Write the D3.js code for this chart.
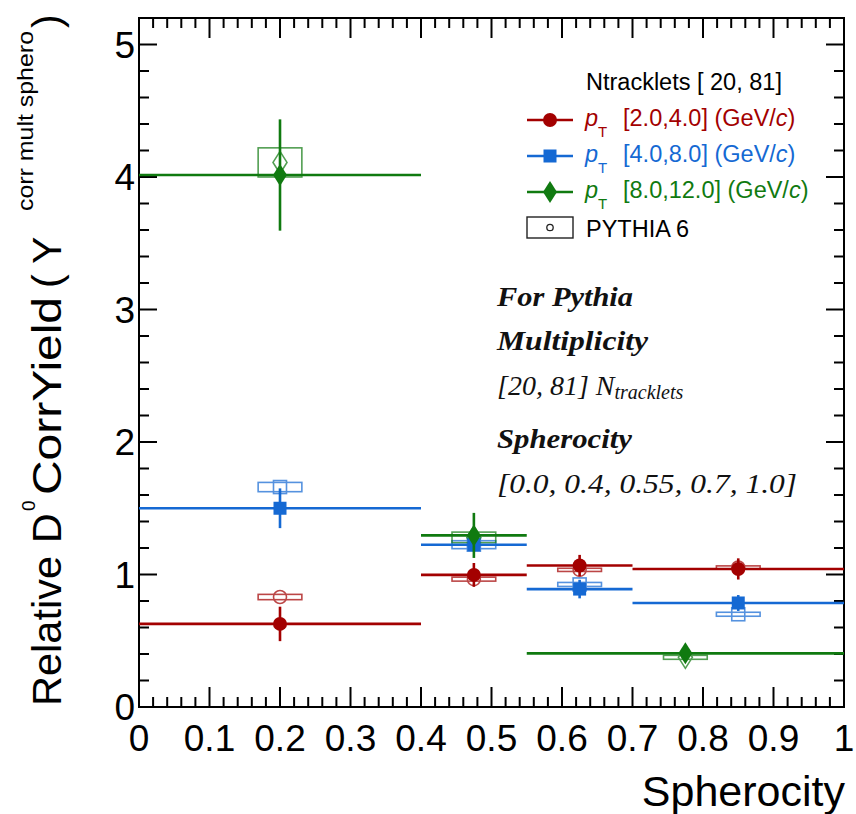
<!DOCTYPE html>
<html>
<head>
<meta charset="utf-8">
<script src="https://cdn.jsdelivr.net/npm/d3@7"></script>
<style>
  html, body { margin: 0; padding: 0; background: #fff; }
  svg { display: block; }
  text.sans { font-family: "Liberation Sans", Arial, Helvetica, sans-serif; }
  text.serif { font-family: "Liberation Serif", "DejaVu Serif", serif; font-style: italic; }
</style>
</head>
<body>
<svg id="chart" width="856" height="814"></svg>
<script>
// ---- axis ticks ----
const xTickLabels = ["0", "0.1", "0.2", "0.3", "0.4", "0.5", "0.6", "0.7", "0.8", "0.9", "1"];
const xTickValues = [0, 0.1, 0.2, 0.3, 0.4, 0.5, 0.6, 0.7, 0.8, 0.9, 1.0];
const yTickLabels = ["0", "1", "2", "3", "4", "5"];
const yTickValues = [0, 1, 2, 3, 4, 5];

// ---- spherocity bins ----
const binsFine = [[0, 0.4], [0.4, 0.55], [0.55, 0.7], [0.7, 1.0]];
const binsGreen = [[0, 0.4], [0.4, 0.55], [0.55, 1.0]];
const centersFine = [0.2, 0.475, 0.625, 0.85];
const centersGreen = [0.2, 0.475, 0.775];

// ---- measured relative yields (pT classes) ----
const redValues = [0.627, 0.997, 1.068, 1.042];
const redErrors = [0.13, 0.09, 0.08, 0.08];
const blueValues = [1.50, 1.225, 0.89, 0.785];
const blueErrors = [0.15, 0.05, 0.07, 0.06];
const greenValues = [4.015, 1.295, 0.405];
const greenErrors = [0.42, 0.17, 0.06];

// ---- PYTHIA 6 predictions ----
const redPythia = [0.83, 0.965, 1.035, 1.053];
const redPythiaErr = [0.02, 0.015, 0.012, 0.012];
const bluePythia = [1.66, 1.225, 0.925, 0.70];
const bluePythiaErr = [0.035, 0.03, 0.015, 0.015];
const greenPythia = [4.11, 1.28, 0.375];
const greenPythiaErr = [0.11, 0.04, 0.015];

const legendLabels = ["[2.0,4.0]", "[4.0,8.0]", "[8.0,12.0]"];

const RED = "#a30000", BLUE = "#1569d3", GREEN = "#107a10";

const svg = d3.select("#chart");
const L = 139, R = 844, T = 18, B = 707;
const x = d3.scaleLinear().domain([0, 1]).range([L, R]);
const y = d3.scaleLinear().domain([0, 5.2]).range([B, T]);

// ---- frame and ticks (ticks on all four sides, pointing inward) ----
const axes = svg.append("g").attr("stroke", "#000").attr("stroke-width", 2);
axes.append("rect").attr("x", L).attr("y", T).attr("width", R - L).attr("height", B - T).attr("fill", "none");

const xMinor = d3.range(0, 51).map(i => i / 50);
xMinor.forEach((v, i) => {
  const len = (i % 5 === 0) ? 20 : 10;
  axes.append("line").attr("x1", x(v)).attr("x2", x(v)).attr("y1", B).attr("y2", B - len);
  axes.append("line").attr("x1", x(v)).attr("x2", x(v)).attr("y1", T).attr("y2", T + len);
});
const yMinor = d3.range(0, 27).map(i => i / 5);
yMinor.forEach((v, i) => {
  const len = (i % 5 === 0) ? 18 : 10;
  axes.append("line").attr("y1", y(v)).attr("y2", y(v)).attr("x1", L).attr("x2", L + len);
  axes.append("line").attr("y1", y(v)).attr("y2", y(v)).attr("x1", R).attr("x2", R - len);
});

// tick labels
svg.append("g").selectAll("text").data(xTickValues).join("text").attr("class", "sans")
  .attr("x", d => x(d)).attr("y", 751)
  .attr("text-anchor", "middle").attr("font-size", 37)
  .text((d, i) => xTickLabels[i]);
svg.append("g").selectAll("text").data(yTickValues).join("text").attr("class", "sans")
  .attr("x", 135).attr("y", d => y(d) + 13)
  .attr("text-anchor", "end").attr("font-size", 37)
  .text((d, i) => yTickLabels[i]);

// axis titles
svg.append("text").attr("class", "sans").attr("x", R + 1).attr("y", 806).attr("text-anchor", "end")
  .attr("font-size", 43).text("Spherocity");

// vertical title: rotated frame, u = -screenY, v = screenX
const yt = svg.append("text").attr("class", "sans").attr("transform", "rotate(-90)").attr("font-size", 41);
yt.append("tspan").attr("x", -706).attr("y", 61).attr("textLength", 150).attr("lengthAdjust", "spacingAndGlyphs").text("Relative");
yt.append("tspan").attr("x", -543).attr("y", 61).text("D");
yt.append("tspan").attr("x", -511).attr("y", 35).attr("font-size", 19).text("0");
yt.append("tspan").attr("x", -495).attr("y", 61).attr("textLength", 198).attr("lengthAdjust", "spacingAndGlyphs").text("CorrYield");
yt.append("tspan").attr("x", -288).attr("y", 61).text("(");
yt.append("tspan").attr("x", -264).attr("y", 61).text("Y");
yt.append("tspan").attr("x", -211).attr("y", 33).attr("font-size", 22).attr("textLength", 180).attr("lengthAdjust", "spacingAndGlyphs").text("corr mult sphero");
yt.append("tspan").attr("x", -28).attr("y", 61).text(")");

// ---- marker drawing ----
function marker(g, shape, cx, cy, color, filled) {
  const fill = filled ? color : "none";
  const sw = filled ? 0 : 1.6;
  if (shape === "circle") {
    g.append("circle").attr("cx", cx).attr("cy", cy).attr("r", filled ? 7 : 6.5)
      .attr("fill", fill).attr("stroke", color).attr("stroke-width", sw);
  } else if (shape === "square") {
    const s = 13;
    g.append("rect").attr("x", cx - s / 2).attr("y", cy - s / 2).attr("width", s).attr("height", s)
      .attr("fill", fill).attr("stroke", color).attr("stroke-width", sw);
  } else {
    const w = 7, h = 11;
    g.append("path").attr("d", `M${cx},${cy - h}L${cx + w},${cy}L${cx},${cy + h}L${cx - w},${cy}Z`)
      .attr("fill", fill).attr("stroke", color).attr("stroke-width", sw);
  }
}

const series = [
  { color: RED, shape: "circle", bins: binsFine, centers: centersFine, vals: redValues, errs: redErrors, py: redPythia, pyErr: redPythiaErr },
  { color: BLUE, shape: "square", bins: binsFine, centers: centersFine, vals: blueValues, errs: blueErrors, py: bluePythia, pyErr: bluePythiaErr },
  { color: GREEN, shape: "diamond", bins: binsGreen, centers: centersGreen, vals: greenValues, errs: greenErrors, py: greenPythia, pyErr: greenPythiaErr }
];

const plot = svg.append("g");
// PYTHIA boxes and open markers underneath
const boxHalf = 0.031;
series.forEach(s => {
  const g = plot.append("g").attr("opacity", 0.72);
  s.py.forEach((v, i) => {
    const cx = x(s.centers[i]);
    g.append("rect")
      .attr("x", x(s.centers[i] - boxHalf)).attr("width", x(s.centers[i] + boxHalf) - x(s.centers[i] - boxHalf))
      .attr("y", y(v + s.pyErr[i])).attr("height", Math.max(3, y(v - s.pyErr[i]) - y(v + s.pyErr[i])))
      .attr("fill", "none").attr("stroke", s.color).attr("stroke-width", 1.6);
    marker(g, s.shape, cx, y(v), s.color, false);
  });
});
// data: bin-width horizontal bars, statistical vertical bars, filled markers
series.forEach(s => {
  const g = plot.append("g");
  s.vals.forEach((v, i) => {
    const cx = x(s.centers[i]);
    g.append("line").attr("x1", x(s.bins[i][0])).attr("x2", x(s.bins[i][1]))
      .attr("y1", y(v)).attr("y2", y(v)).attr("stroke", s.color).attr("stroke-width", 2.6);
    g.append("line").attr("x1", cx).attr("x2", cx)
      .attr("y1", y(v + s.errs[i])).attr("y2", y(v - s.errs[i])).attr("stroke", s.color).attr("stroke-width", 2.6);
    marker(g, s.shape, cx, y(v), s.color, true);
  });
});

// ---- legend ----
const lg = svg.append("g");
lg.append("text").attr("class", "sans").attr("x", 586).attr("y", 90).attr("font-size", 23.5).text("Ntracklets [ 20, 81]");
const legY = [120, 156, 192];
series.forEach((s, i) => {
  lg.append("line").attr("x1", 527).attr("x2", 573).attr("y1", legY[i]).attr("y2", legY[i])
    .attr("stroke", s.color).attr("stroke-width", 2.6);
  marker(lg, s.shape, 550, legY[i], s.color, true);
  const t = lg.append("text").attr("class", "sans").attr("x", 585).attr("y", legY[i] + 6).attr("font-size", 23.5).attr("fill", s.color);
  t.append("tspan").attr("font-style", "italic").text("p");
  t.append("tspan").attr("font-size", 15).attr("dy", 11).text("T");
  t.append("tspan").attr("x", 623).attr("dy", -11).text(legendLabels[i] + " (GeV/");
  t.append("tspan").attr("font-style", "italic").text("c");
  t.append("tspan").text(")");
});
lg.append("rect").attr("x", 527).attr("y", 217).attr("width", 46).attr("height", 21)
  .attr("fill", "none").attr("stroke", "#222").attr("stroke-width", 1.4);
lg.append("circle").attr("cx", 550).attr("cy", 227.5).attr("r", 3.2).attr("fill", "none").attr("stroke", "#222").attr("stroke-width", 1.3);
lg.append("text").attr("class", "sans").attr("x", 586).attr("y", 237).attr("font-size", 23.5).text("PYTHIA 6");

// ---- annotation ----
const ann = svg.append("g").attr("fill", "#111");
function annLine(yPos, txt, bold, len) {
  return ann.append("text").attr("class", "serif").attr("x", 497).attr("y", yPos)
    .attr("font-size", 28).attr("font-weight", bold ? "bold" : "normal")
    .attr("textLength", len).attr("lengthAdjust", "spacingAndGlyphs").text(txt);
}
annLine(306, "For Pythia", true, 136);
annLine(350, "Multiplicity", true, 151);
const nt = ann.append("text").attr("class", "serif").attr("x", 497).attr("y", 395).attr("font-size", 28);
nt.append("tspan").text("[20, 81] N");
nt.append("tspan").attr("font-size", 20).attr("dy", 4).text("tracklets");
annLine(448, "Spherocity", true, 135);
annLine(493, "[0.0, 0.4, 0.55, 0.7, 1.0]", false, 300);
</script>
</body>
</html>
